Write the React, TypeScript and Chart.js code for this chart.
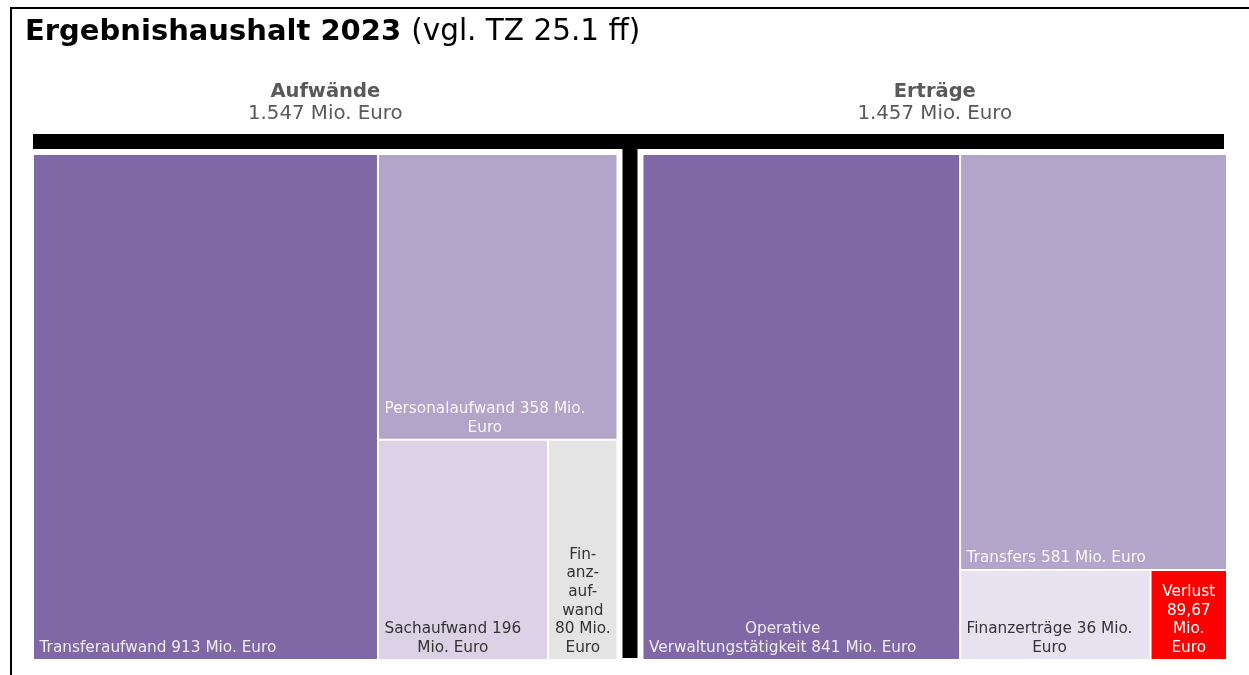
import React, { useEffect, useRef } from "react";
import { Chart, registerables } from "chart.js";

Chart.register(...registerables);

// ---- Data ----
const titleBold = "Ergebnishaushalt 2023";
const titleRegular = "(vgl. TZ 25.1 ff)";

const aufwandHeader = "Aufwände";
const aufwandTotal = "1.547 Mio. Euro";
const aufwandNames = ["Transferaufwand", "Personalaufwand", "Sachaufwand", "Finanzaufwand"];
const aufwandValues = [913, 358, 196, 80];
const aufwandLabels = [
  ["Transferaufwand 913 Mio. Euro"],
  ["Personalaufwand 358 Mio.", "Euro"],
  ["Sachaufwand 196", "Mio. Euro"],
  ["Fin-", "anz-", "auf-", "wand", "80 Mio.", "Euro"],
];
const aufwandColors = ["#8067a5", "#b3a4ca", "#dbd2e6", "#e4e4e4"];
const aufwandTextColors = ["rgba(255,255,255,0.88)", "rgba(255,255,255,0.92)", "#333333", "#333333"];

const ertragHeader = "Erträge";
const ertragTotal = "1.457 Mio. Euro";
const ertragNames = ["Operative Verwaltungstätigkeit", "Transfers", "Finanzerträge", "Verlust"];
const ertragValues = [841, 581, 36, 89.67];
// tile sizes as drawn in the reference (the two small tiles appear swapped in area)
const ertragTileSizes = [841, 581, 89.67, 36];
const ertragLabels = [
  ["Operative", "Verwaltungstätigkeit 841 Mio. Euro"],
  ["Transfers 581 Mio. Euro"],
  ["Finanzerträge 36 Mio.", "Euro"],
  ["Verlust", "89,67", "Mio.", "Euro"],
];
const ertragColors = ["#8067a5", "#b3a4ca", "#e7e2ef", "#ff0000"];
const ertragTextColors = ["rgba(255,255,255,0.88)", "rgba(255,255,255,0.92)", "#333333", "#ffffff"];

// ---- Styling ----
const FONT = '"DejaVu Sans", Verdana, sans-serif';
const CELL_FONT = 15.3;
const LINE_H = 18.7;
const PANEL_GAP = 0.0209;

type Rect = { x: number; y: number; w: number; h: number };

function squarify(vals: number[], rect: Rect): Rect[] {
  const total = vals.reduce((a, b) => a + b, 0);
  const areas = vals.map((v) => (v / total) * rect.w * rect.h);
  const out: Rect[] = new Array(vals.length);
  let { x, y, w, h } = rect;
  let i = 0;
  while (i < areas.length) {
    const side = Math.min(w, h);
    const worst = (s: number, mx: number, mn: number) =>
      Math.max((side * side * mx) / (s * s), (s * s) / (side * side * mn));
    const row = [i];
    let rowSum = areas[i];
    let best = worst(rowSum, areas[i], areas[i]);
    let j = i + 1;
    while (j < areas.length) {
      const ns = rowSum + areas[j];
      const rs = row.map((k) => areas[k]).concat([areas[j]]);
      const wr = worst(ns, Math.max(...rs), Math.min(...rs));
      if (wr > best) break;
      row.push(j);
      rowSum = ns;
      best = wr;
      j++;
    }
    const thick = rowSum / side;
    if (w >= h) {
      let cy = y;
      for (const k of row) {
        const hh = areas[k] / thick;
        out[k] = { x, y: cy, w: thick, h: hh };
        cy += hh;
      }
      x += thick;
      w -= thick;
    } else {
      let cx = x;
      for (const k of row) {
        const ww = areas[k] / thick;
        out[k] = { x: cx, y, w: ww, h: thick };
        cx += ww;
      }
      y += thick;
      h -= thick;
    }
    i = j;
  }
  return out;
}

function setFont(ctx: CanvasRenderingContext2D, size: number, weight: string) {
  ctx.font = `${weight} ${size}px ${FONT}`;
}
function measure(ctx: CanvasRenderingContext2D, text: string, size: number, weight: string) {
  setFont(ctx, size, weight);
  return ctx.measureText(text).width;
}
function drawText(
  ctx: CanvasRenderingContext2D,
  text: string,
  x: number,
  y: number,
  size: number,
  weight: string,
  color: string,
  align: CanvasTextAlign
) {
  ctx.save();
  setFont(ctx, size, weight);
  ctx.fillStyle = color;
  ctx.textBaseline = "alphabetic";
  ctx.textAlign = align;
  ctx.fillText(text, x, y);
  ctx.restore();
}

const treemapPlugin = {
  id: "treemapPanels",
  afterDatasetsDraw(chart: any) {
    const ctx: CanvasRenderingContext2D = chart.ctx;
    const xs = chart.scales.x;
    const ys = chart.scales.y;
    const area = chart.chartArea;

    // outer frame
    ctx.save();
    ctx.fillStyle = "#000";
    ctx.fillRect(10, 7, chart.width - 10, 2);
    ctx.fillRect(10, 7, 2, chart.height - 7);
    ctx.restore();

    // title
    drawText(ctx, titleBold, 25, 40, 29, "bold", "#000", "left");
    const bw = measure(ctx, titleBold + " ", 29, "bold");
    drawText(ctx, titleRegular, 25 + bw, 40, 29.5, "normal", "#000", "left");

    const panels = [
      {
        x0: 0,
        x1: (1 - PANEL_GAP) / 2,
        header: aufwandHeader,
        total: aufwandTotal,
        sizes: aufwandValues,
        labels: aufwandLabels,
        colors: aufwandColors,
        text: aufwandTextColors,
      },
      {
        x0: (1 + PANEL_GAP) / 2,
        x1: 1,
        header: ertragHeader,
        total: ertragTotal,
        sizes: ertragTileSizes,
        labels: ertragLabels,
        colors: ertragColors,
        text: ertragTextColors,
      },
    ];

    // black bars
    ctx.save();
    ctx.fillStyle = "#000";
    ctx.fillRect(area.left, area.top - 20, area.right - 3 - area.left, 15);
    const gapL = xs.getPixelForValue(panels[0].x1);
    const gapR = xs.getPixelForValue(panels[1].x0);
    const gc = (gapL + gapR) / 2;
    ctx.fillRect(gc - 7.5, area.top - 6, 15, area.bottom - 2 - (area.top - 6));
    ctx.restore();

    for (const p of panels) {
      const px0 = xs.getPixelForValue(p.x0);
      const px1 = xs.getPixelForValue(p.x1);
      const py0 = ys.getPixelForValue(0);
      const py1 = ys.getPixelForValue(1);
      const cx = (px0 + px1) / 2;
      drawText(ctx, p.header, cx, area.top - 57, 19.5, "bold", "#595959", "center");
      drawText(ctx, p.total, cx, area.top - 35, 19.8, "normal", "#595959", "center");

      const rects = squarify(p.sizes, { x: px0, y: py0, w: px1 - px0, h: py1 - py0 });
      rects.forEach((r, i) => {
        ctx.save();
        ctx.fillStyle = p.colors[i];
        ctx.fillRect(r.x + 1, r.y + 1, r.w - 2, r.h - 2);
        ctx.restore();
        const lines = p.labels[i];
        const widths = lines.map((l) => measure(ctx, l, CELL_FONT, "normal"));
        const blockW = Math.max(...widths);
        const slack = r.w - 2 - blockW;
        const off = r.w < 100 ? Math.max(slack / 2, 3) : 5.5;
        const left = r.x + 1 + off;
        const mid = left + blockW / 2;
        const baseBottom = r.y + r.h - 8;
        lines.forEach((l, li) => {
          const y = baseBottom - (lines.length - 1 - li) * LINE_H;
          drawText(ctx, l, mid, y, CELL_FONT, "normal", p.text[i], "center");
        });
      });
    }
  },
};

export default function App() {
  const canvasRef = useRef<HTMLCanvasElement | null>(null);

  useEffect(() => {
    const canvas = canvasRef.current;
    if (!canvas) return;
    const chart = new Chart(canvas, {
      type: "scatter",
      data: { datasets: [{ label: "Ergebnishaushalt", data: [] }] },
      options: {
        responsive: false,
        maintainAspectRatio: false,
        animation: false,
        events: [],
        layout: { padding: { left: 33, top: 154, right: 22, bottom: 15 } },
        plugins: {
          legend: { display: false },
          tooltip: { enabled: false },
          title: { display: false },
        },
        scales: {
          x: { type: "linear", min: 0, max: 1, display: false },
          y: { type: "linear", min: 0, max: 1, reverse: true, display: false },
        },
      },
      plugins: [treemapPlugin],
    });
    return () => chart.destroy();
  }, []);

  return (
    <div
      style={{
        position: "fixed",
        left: 0,
        top: 0,
        width: 1249,
        height: 675,
        background: "#ffffff",
      }}
    >
      <canvas ref={canvasRef} width={1249} height={675} style={{ display: "block" }} />
    </div>
  );
}
